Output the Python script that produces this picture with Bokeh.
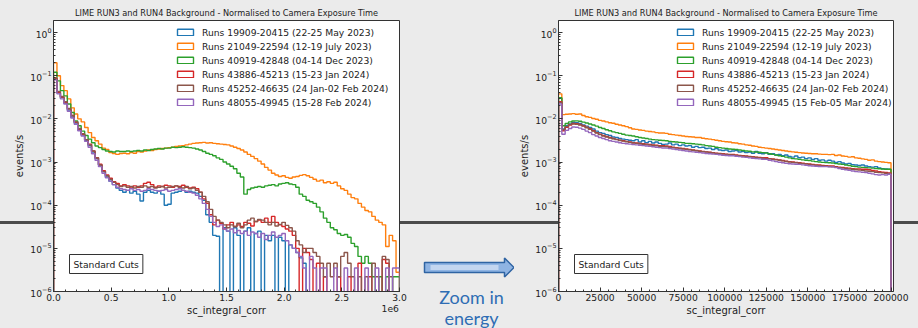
from bokeh.plotting import figure
from bokeh.layouts import row, column
from bokeh.models import (Range1d, FixedTicker, LogTickFormatter,
                          CustomJSTickFormatter, PrintfTickFormatter, Label)
from bokeh.core.properties import value
from bokeh.embed import file_html
from bokeh.resources import INLINE

FONT = "DejaVu Sans"
TITLE = "LIME RUN3 and RUN4 Background - Normalised to Camera Exposure Time"
colors = ["#1f77b4", "#ff7f0e", "#2ca02c", "#d62728", "#8c564b", "#9467bd"]

left_labels = ["Runs 19909-20415 (22-25 May 2023)",
               "Runs 21049-22594 (12-19 July 2023)",
               "Runs 40919-42848 (04-14 Dec 2023)",
               "Runs 43886-45213 (15-23 Jan 2024)",
               "Runs 45252-46635 (24 Jan-02 Feb 2024)",
               "Runs 48055-49945 (15-28 Feb 2024)"]
right_labels = ["Runs 19909-20415 (22-25 May 2023)",
                "Runs 21049-22594 (12-19 July 2023)",
                "Runs 40919-42848 (04-14 Dec 2023)",
                "Runs 43886-45213 (15-23 Jan 2024)",
                "Runs 45252-46635 (24 Jan-02 Feb 2024)",
                "Runs 48055-49945 (15 Feb-05 Mar 2024)"]

# ---- left panel: 100 bins of 30000 over 0 .. 3e6 (events/s) ----
left_bin = 30000
blue_L = [8.5e-2, 4.0e-2, 3.1e-2, 2.3e-2, 1.6e-2, 1.1e-2, 8.0e-3, 5.6e-3, 4.2e-3, 3.2e-3,
          2.4e-3, 1.7e-3, 1.2e-3, 8.5e-4, 6.0e-4, 4.5e-4, 3.6e-4, 3.0e-4, 2.5e-4, 2.2e-4,
          2.0e-4, 2.2e-4, 1.9e-4, 2.1e-4, 1.8e-4, 1.25e-4, 2.0e-4, 2.2e-4, 2.0e-4, 1.9e-4,
          2.1e-4, 1.8e-4, 1.0e-4, 1.05e-4, 1.9e-4, 2.0e-4, 2.1e-4, 2.2e-4, 2.0e-4, 2.1e-4,
          2.0e-4, 1.9e-4, 1.6e-4, 1.3e-4, 6.0e-5, 4.0e-5, 2.0e-5, 1.9e-5, 0, 3.0e-5,
          2.5e-5, 0, 3.0e-5, 2.0e-5, 0, 2.5e-5, 3.0e-5, 0, 2.2e-5, 2.5e-5,
          0, 2.0e-5, 1.5e-5, 2.0e-5, 0, 1.8e-5, 1.5e-5, 0, 1.2e-5, 1.0e-5,
          8.0e-6, 6.0e-6, 4.5e-6, 0, 0, 0, 0, 0, 0, 0,
          0, 0, 0, 0, 0, 0, 0, 0, 0, 0,
          0, 0, 0, 0, 0, 0, 0, 0, 0, 0]
orange_L = [2.0e-1, 1.0e-1, 5.9e-2, 4.5e-2, 2.9e-2, 1.8e-2, 1.3e-2, 1.0e-2, 8.5e-3, 6.3e-3,
            4.8e-3, 3.7e-3, 3.1e-3, 2.6e-3, 2.1e-3, 1.95e-3, 1.66e-3, 1.58e-3, 1.5e-3, 1.58e-3,
            1.6e-3, 1.55e-3, 1.65e-3, 1.6e-3, 1.75e-3, 1.7e-3, 1.8e-3, 1.9e-3, 1.85e-3, 1.95e-3,
            2.0e-3, 2.05e-3, 2.1e-3, 2.15e-3, 2.2e-3, 2.3e-3, 2.35e-3, 2.4e-3, 2.5e-3, 2.6e-3,
            2.7e-3, 2.75e-3, 2.8e-3, 2.85e-3, 2.75e-3, 2.8e-3, 2.7e-3, 2.65e-3, 2.6e-3, 2.55e-3,
            2.5e-3, 2.35e-3, 2.2e-3, 2.05e-3, 1.9e-3, 1.7e-3, 1.5e-3, 1.35e-3, 1.2e-3, 1.05e-3,
            9.0e-4, 7.5e-4, 6.5e-4, 5.5e-4, 5.0e-4, 4.6e-4, 4.8e-4, 4.4e-4, 4.2e-4, 4.5e-4,
            4.6e-4, 4.9e-4, 5.1e-4, 4.8e-4, 4.4e-4, 4.0e-4, 3.6e-4, 3.8e-4, 3.3e-4, 3.5e-4,
            3.2e-4, 3.4e-4, 2.8e-4, 2.4e-4, 2.2e-4, 1.8e-4, 1.5e-4, 1.4e-4, 1.1e-4, 9.0e-5,
            7.5e-5, 7.0e-5, 5.5e-5, 4.5e-5, 4.0e-5, 3.5e-5, 1.1e-5, 2.0e-5, 1.5e-5, 2.8e-6]
green_L = [1.2e-1, 7.6e-2, 4.5e-2, 3.4e-2, 2.2e-2, 1.4e-2, 8.9e-3, 6.9e-3, 5.2e-3, 4.1e-3,
           3.4e-3, 2.8e-3, 2.35e-3, 2.15e-3, 1.95e-3, 1.8e-3, 1.75e-3, 1.7e-3, 1.8e-3, 1.75e-3,
           1.75e-3, 1.8e-3, 1.75e-3, 1.8e-3, 1.85e-3, 1.8e-3, 1.9e-3, 1.85e-3, 1.95e-3, 2.0e-3,
           2.05e-3, 2.0e-3, 2.1e-3, 2.1e-3, 2.2e-3, 2.15e-3, 2.2e-3, 2.25e-3, 2.2e-3, 2.15e-3,
           2.1e-3, 2.0e-3, 1.9e-3, 1.75e-3, 1.6e-3, 1.5e-3, 1.4e-3, 1.25e-3, 1.15e-3, 1.0e-3,
           9.0e-4, 8.0e-4, 7.0e-4, 5.5e-4, 4.5e-4, 1.8e-4, 2.3e-4, 2.5e-4, 2.6e-4, 2.7e-4,
           2.6e-4, 2.8e-4, 2.9e-4, 3.0e-4, 2.8e-4, 3.1e-4, 3.2e-4, 3.3e-4, 3.1e-4, 3.0e-4,
           2.6e-4, 1.8e-4, 1.6e-4, 1.3e-4, 1.2e-4, 1.1e-4, 9.0e-5, 7.0e-5, 5.0e-5, 4.0e-5,
           3.0e-5, 2.7e-5, 2.2e-5, 2.0e-5, 2.1e-5, 1.8e-5, 1.3e-5, 1.1e-5, 6.5e-6, 4.5e-6,
           6.5e-6, 4.5e-6, 2.2e-6, 0, 2.2e-6, 0, 2.2e-6, 0, 2.2e-6, 2.2e-6]
red_L = [8.9e-2, 4.1e-2, 3.2e-2, 2.4e-2, 1.7e-2, 1.2e-2, 8.3e-3, 5.8e-3, 4.4e-3, 3.3e-3,
         2.6e-3, 1.8e-3, 1.26e-3, 8.9e-4, 6.3e-4, 5.0e-4, 4.2e-4, 3.5e-4, 3.2e-4, 2.8e-4,
         3.0e-4, 2.8e-4, 2.5e-4, 2.8e-4, 2.6e-4, 2.8e-4, 3.2e-4, 3.4e-4, 3.0e-4, 2.6e-4,
         2.8e-4, 2.7e-4, 2.9e-4, 2.8e-4, 2.6e-4, 2.8e-4, 2.7e-4, 2.9e-4, 2.6e-4, 2.5e-4,
         2.6e-4, 2.4e-4, 2.0e-4, 1.4e-4, 1.1e-4, 6.0e-5, 3.5e-5, 4.5e-5, 3.8e-5, 2.8e-5,
         3.5e-5, 4.0e-5, 3.2e-5, 3.5e-5, 3.2e-5, 4.0e-5, 3.8e-5, 3.3e-5, 4.2e-5, 4.5e-5,
         4.0e-5, 5.0e-5, 4.0e-5, 5.5e-5, 4.0e-5, 3.5e-5, 3.2e-5, 2.8e-5, 2.5e-5, 2.0e-5,
         1.0e-5, 0, 1.0e-5, 8.0e-6, 5.5e-6, 0, 4.5e-6, 0, 2.2e-6, 0,
         0, 0, 2.2e-6, 0, 0, 2.2e-6, 0, 0, 4.5e-6, 0,
         0, 2.2e-6, 0, 0, 0, 5.5e-6, 4.5e-6, 0, 0, 0]
brown_L = [8.5e-2, 4.3e-2, 3.3e-2, 2.5e-2, 1.75e-2, 1.2e-2, 8.5e-3, 6.0e-3, 4.5e-3, 3.3e-3,
           2.5e-3, 1.8e-3, 1.25e-3, 8.5e-4, 6.0e-4, 4.8e-4, 4.0e-4, 3.4e-4, 3.0e-4, 2.7e-4,
           2.8e-4, 2.6e-4, 2.7e-4, 2.5e-4, 2.7e-4, 2.6e-4, 2.8e-4, 2.6e-4, 2.7e-4, 2.5e-4,
           2.6e-4, 2.7e-4, 2.5e-4, 2.6e-4, 2.7e-4, 2.8e-4, 2.6e-4, 2.5e-4, 2.7e-4, 2.4e-4,
           2.5e-4, 2.2e-4, 2.0e-4, 1.6e-4, 1.2e-4, 8.0e-5, 5.5e-5, 4.5e-5, 4.0e-5, 3.5e-5,
           3.0e-5, 3.5e-5, 3.2e-5, 3.8e-5, 3.0e-5, 3.5e-5, 4.5e-5, 5.0e-5, 4.2e-5, 4.7e-5,
           4.5e-5, 4.0e-5, 3.5e-5, 4.0e-5, 3.3e-5, 3.6e-5, 4.0e-5, 3.4e-5, 3.0e-5, 2.5e-5,
           1.5e-5, 1.2e-5, 8.0e-6, 1.0e-5, 1.0e-5, 8.0e-6, 6.5e-6, 4.5e-6, 2.2e-6, 4.5e-6,
           2.2e-6, 4.5e-6, 2.2e-6, 6.5e-6, 8.0e-6, 4.5e-6, 2.2e-6, 0, 2.2e-6, 0,
           2.2e-6, 0, 4.5e-6, 2.2e-6, 0, 6.5e-6, 5.5e-6, 2.2e-6, 0, 0]
purple_L = [8.0e-2, 3.8e-2, 2.9e-2, 2.2e-2, 1.5e-2, 1.05e-2, 7.5e-3, 5.3e-3, 4.0e-3, 3.0e-3,
            2.2e-3, 1.55e-3, 1.1e-3, 7.8e-4, 5.5e-4, 4.3e-4, 3.6e-4, 3.0e-4, 2.6e-4, 2.4e-4,
            2.3e-4, 2.2e-4, 2.4e-4, 2.2e-4, 2.3e-4, 2.1e-4, 2.2e-4, 2.4e-4, 2.3e-4, 2.2e-4,
            2.1e-4, 2.2e-4, 2.3e-4, 2.1e-4, 2.2e-4, 2.3e-4, 2.4e-4, 2.2e-4, 2.1e-4, 2.0e-4,
            1.9e-4, 1.7e-4, 1.4e-4, 1.1e-4, 8.0e-5, 5.5e-5, 4.0e-5, 3.2e-5, 3.5e-5, 2.8e-5,
            2.5e-5, 2.8e-5, 2.3e-5, 2.6e-5, 2.2e-5, 2.5e-5, 2.0e-5, 2.4e-5, 2.2e-5, 1.8e-5,
            2.2e-5, 1.6e-5, 2.0e-5, 2.4e-5, 1.8e-5, 2.0e-5, 2.2e-5, 1.5e-5, 1.2e-5, 1.0e-5,
            8.0e-6, 6.5e-6, 3.5e-6, 0, 6.5e-6, 3.5e-6, 0, 3.5e-6, 3.5e-6, 0,
            0, 3.5e-6, 0, 0, 3.5e-6, 0, 0, 3.5e-6, 0, 0,
            3.5e-6, 0, 0, 3.5e-6, 0, 0, 3.5e-6, 0, 3.5e-6, 3.5e-6]

# ---- right panel: 100 bins of 2000 over 0 .. 200000 (events/s) ----
right_bin = 2000
blue_R = [3.0e-2, 5.8e-3, 6.9e-3, 7.6e-3, 8.2e-3, 8.1e-3, 7.8e-3, 7.2e-3, 6.8e-3, 6.3e-3,
          5.8e-3, 5.2e-3, 4.8e-3, 4.6e-3, 4.3e-3, 4.1e-3, 3.8e-3, 3.7e-3, 3.5e-3, 3.4e-3,
          3.3e-3, 3.2e-3, 3.1e-3, 3.3e-3, 2.9e-3, 3.1e-3, 2.8e-3, 3.0e-3, 2.75e-3, 2.9e-3,
          2.7e-3, 2.55e-3, 2.6e-3, 2.75e-3, 2.5e-3, 2.6e-3, 2.4e-3, 2.5e-3, 2.35e-3, 2.4e-3,
          2.2e-3, 2.3e-3, 2.15e-3, 2.2e-3, 2.05e-3, 2.1e-3, 1.95e-3, 2.05e-3, 1.9e-3, 1.85e-3,
          1.9e-3, 1.75e-3, 1.8e-3, 1.85e-3, 1.7e-3, 1.75e-3, 1.65e-3, 1.7e-3, 1.6e-3, 1.75e-3,
          1.6e-3, 1.55e-3, 1.65e-3, 1.5e-3, 1.55e-3, 1.45e-3, 1.5e-3, 1.4e-3, 1.45e-3, 1.35e-3,
          1.3e-3, 1.38e-3, 1.26e-3, 1.3e-3, 1.2e-3, 1.25e-3, 1.15e-3, 1.2e-3, 1.1e-3, 1.12e-3,
          1.05e-3, 1.1e-3, 1.05e-3, 9.8e-4, 1.02e-3, 9.5e-4, 9.0e-4, 9.3e-4, 8.7e-4, 8.5e-4,
          8.3e-4, 8.5e-4, 8.1e-4, 7.8e-4, 7.6e-4, 7.8e-4, 7.3e-4, 7.0e-4, 6.9e-4, 6.8e-4]
orange_R = [3.8e-2, 1.25e-2, 1.28e-2, 1.3e-2, 1.32e-2, 1.28e-2, 1.3e-2, 1.2e-2, 1.12e-2, 1.08e-2,
            1.02e-2, 9.8e-3, 9.2e-3, 8.9e-3, 8.5e-3, 8.1e-3, 7.9e-3, 7.5e-3, 7.2e-3, 6.9e-3,
            6.6e-3, 6.2e-3, 5.8e-3, 5.7e-3, 5.5e-3, 5.4e-3, 5.2e-3, 5.1e-3, 5.0e-3, 4.8e-3,
            4.7e-3, 4.7e-3, 4.6e-3, 4.4e-3, 4.3e-3, 4.2e-3, 4.1e-3, 4.0e-3, 3.9e-3, 3.85e-3,
            3.8e-3, 3.7e-3, 3.7e-3, 3.55e-3, 3.45e-3, 3.4e-3, 3.3e-3, 3.2e-3, 3.1e-3, 3.0e-3,
            2.95e-3, 2.9e-3, 2.8e-3, 2.75e-3, 2.65e-3, 2.6e-3, 2.5e-3, 2.45e-3, 2.35e-3, 2.3e-3,
            2.2e-3, 2.15e-3, 2.1e-3, 2.05e-3, 2.0e-3, 1.95e-3, 1.9e-3, 1.85e-3, 1.8e-3, 1.75e-3,
            1.72e-3, 1.68e-3, 1.65e-3, 1.62e-3, 1.6e-3, 1.58e-3, 1.55e-3, 1.55e-3, 1.52e-3, 1.5e-3,
            1.5e-3, 1.48e-3, 1.5e-3, 1.42e-3, 1.45e-3, 1.38e-3, 1.35e-3, 1.3e-3, 1.32e-3, 1.25e-3,
            1.22e-3, 1.18e-3, 1.15e-3, 1.1e-3, 1.12e-3, 1.05e-3, 1.02e-3, 1.0e-3, 9.8e-4, 9.6e-4]
green_R = [3.1e-2, 6.9e-3, 7.8e-3, 8.5e-3, 8.9e-3, 9.0e-3, 8.8e-3, 8.4e-3, 8.0e-3, 7.6e-3,
           7.2e-3, 6.8e-3, 6.3e-3, 6.0e-3, 5.6e-3, 5.3e-3, 5.0e-3, 4.8e-3, 4.6e-3, 4.4e-3,
           4.2e-3, 4.1e-3, 4.0e-3, 3.85e-3, 3.7e-3, 3.6e-3, 3.5e-3, 3.4e-3, 3.3e-3, 3.25e-3,
           3.2e-3, 3.15e-3, 3.1e-3, 3.0e-3, 2.95e-3, 2.9e-3, 2.85e-3, 2.8e-3, 2.7e-3, 2.68e-3,
           2.65e-3, 2.6e-3, 2.55e-3, 2.5e-3, 2.4e-3, 2.35e-3, 2.3e-3, 2.2e-3, 2.15e-3, 2.1e-3,
           2.05e-3, 2.0e-3, 1.98e-3, 1.95e-3, 1.9e-3, 1.85e-3, 1.8e-3, 1.78e-3, 1.72e-3, 1.7e-3,
           1.68e-3, 1.65e-3, 1.62e-3, 1.55e-3, 1.5e-3, 1.45e-3, 1.4e-3, 1.35e-3, 1.3e-3, 1.25e-3,
           1.2e-3, 1.18e-3, 1.15e-3, 1.12e-3, 1.1e-3, 1.08e-3, 1.05e-3, 1.02e-3, 1.0e-3, 9.8e-4,
           9.7e-4, 9.6e-4, 9.5e-4, 9.2e-4, 9.0e-4, 8.8e-4, 8.5e-4, 8.3e-4, 8.0e-4, 7.8e-4,
           7.6e-4, 7.5e-4, 7.4e-4, 7.3e-4, 7.2e-4, 7.1e-4, 7.0e-4, 6.9e-4, 6.8e-4, 6.8e-4]
red_R = [2.5e-2, 5.3e-3, 6.4e-3, 7.2e-3, 7.8e-3, 7.7e-3, 7.4e-3, 6.9e-3, 6.4e-3, 5.9e-3,
         5.3e-3, 4.8e-3, 4.4e-3, 4.1e-3, 3.9e-3, 3.7e-3, 3.5e-3, 3.35e-3, 3.2e-3, 3.1e-3,
         3.0e-3, 2.9e-3, 2.8e-3, 2.75e-3, 2.7e-3, 2.65e-3, 2.6e-3, 2.55e-3, 2.5e-3, 2.45e-3,
         2.4e-3, 2.38e-3, 2.35e-3, 2.3e-3, 2.2e-3, 2.15e-3, 2.1e-3, 2.05e-3, 2.0e-3, 1.95e-3,
         1.9e-3, 1.85e-3, 1.8e-3, 1.75e-3, 1.72e-3, 1.68e-3, 1.65e-3, 1.6e-3, 1.58e-3, 1.55e-3,
         1.52e-3, 1.5e-3, 1.5e-3, 1.45e-3, 1.42e-3, 1.4e-3, 1.38e-3, 1.35e-3, 1.32e-3, 1.3e-3,
         1.28e-3, 1.26e-3, 1.26e-3, 1.2e-3, 1.18e-3, 1.15e-3, 1.12e-3, 1.08e-3, 1.05e-3, 1.02e-3,
         1.0e-3, 9.8e-4, 9.6e-4, 9.4e-4, 9.2e-4, 9.0e-4, 8.8e-4, 8.6e-4, 8.5e-4, 8.3e-4,
         8.2e-4, 8.1e-4, 8.1e-4, 7.8e-4, 7.6e-4, 7.5e-4, 7.3e-4, 7.2e-4, 7.0e-4, 6.9e-4,
         6.9e-4, 6.8e-4, 6.8e-4, 6.6e-4, 6.4e-4, 6.2e-4, 6.0e-4, 5.8e-4, 5.7e-4, 5.6e-4]
brown_R = [2.4e-2, 5.6e-3, 6.6e-3, 7.4e-3, 7.6e-3, 7.5e-3, 7.2e-3, 6.8e-3, 6.2e-3, 5.7e-3,
           5.2e-3, 4.7e-3, 4.3e-3, 4.0e-3, 3.8e-3, 3.6e-3, 3.45e-3, 3.3e-3, 3.15e-3, 3.05e-3,
           2.95e-3, 2.85e-3, 2.75e-3, 2.7e-3, 2.62e-3, 2.58e-3, 2.5e-3, 2.48e-3, 2.42e-3, 2.38e-3,
           2.32e-3, 2.3e-3, 2.25e-3, 2.2e-3, 2.15e-3, 2.1e-3, 2.05e-3, 2.0e-3, 1.96e-3, 1.92e-3,
           1.88e-3, 1.82e-3, 1.78e-3, 1.74e-3, 1.7e-3, 1.66e-3, 1.62e-3, 1.58e-3, 1.55e-3, 1.52e-3,
           1.5e-3, 1.48e-3, 1.45e-3, 1.42e-3, 1.4e-3, 1.37e-3, 1.35e-3, 1.32e-3, 1.3e-3, 1.27e-3,
           1.25e-3, 1.22e-3, 1.2e-3, 1.18e-3, 1.15e-3, 1.12e-3, 1.1e-3, 1.06e-3, 1.03e-3, 1.0e-3,
           9.8e-4, 9.6e-4, 9.4e-4, 9.2e-4, 9.0e-4, 8.8e-4, 8.6e-4, 8.4e-4, 8.2e-4, 8.1e-4,
           8.0e-4, 7.9e-4, 7.7e-4, 7.6e-4, 7.4e-4, 7.2e-4, 7.1e-4, 6.9e-4, 6.8e-4, 6.6e-4,
           6.5e-4, 6.4e-4, 6.2e-4, 6.1e-4, 6.0e-4, 5.8e-4, 5.7e-4, 5.6e-4, 5.5e-4, 5.4e-4]
purple_R = [2.2e-2, 4.4e-3, 5.4e-3, 6.0e-3, 6.5e-3, 6.4e-3, 6.1e-3, 5.7e-3, 5.2e-3, 4.8e-3,
            4.3e-3, 4.0e-3, 3.7e-3, 3.5e-3, 3.3e-3, 3.1e-3, 3.0e-3, 2.9e-3, 2.8e-3, 2.7e-3,
            2.65e-3, 2.6e-3, 2.55e-3, 2.5e-3, 2.45e-3, 2.4e-3, 2.35e-3, 2.3e-3, 2.25e-3, 2.2e-3,
            2.15e-3, 2.12e-3, 2.1e-3, 2.05e-3, 2.0e-3, 1.95e-3, 1.9e-3, 1.85e-3, 1.8e-3, 1.75e-3,
            1.72e-3, 1.68e-3, 1.65e-3, 1.62e-3, 1.58e-3, 1.55e-3, 1.52e-3, 1.5e-3, 1.47e-3, 1.44e-3,
            1.42e-3, 1.4e-3, 1.4e-3, 1.36e-3, 1.33e-3, 1.3e-3, 1.28e-3, 1.25e-3, 1.22e-3, 1.2e-3,
            1.18e-3, 1.16e-3, 1.15e-3, 1.1e-3, 1.06e-3, 1.02e-3, 9.9e-4, 9.6e-4, 9.3e-4, 9.1e-4,
            9.0e-4, 8.9e-4, 8.8e-4, 8.6e-4, 8.4e-4, 8.2e-4, 8.1e-4, 8.0e-4, 7.9e-4, 7.8e-4,
            7.8e-4, 7.7e-4, 7.7e-4, 7.4e-4, 7.1e-4, 6.8e-4, 6.6e-4, 6.4e-4, 6.2e-4, 6.0e-4,
            5.9e-4, 5.8e-4, 5.7e-4, 5.5e-4, 5.3e-4, 5.1e-4, 5.0e-4, 5.1e-4, 5.0e-4, 5.2e-4]

left_series = [blue_L, orange_L, green_L, red_L, brown_L, purple_L]
right_series = [blue_R, orange_R, green_R, red_R, brown_R, purple_R]

left_xticks = [0, 500000, 1000000, 1500000, 2000000, 2500000, 3000000]
right_xticks = [0, 25000, 50000, 75000, 100000, 125000, 150000, 175000, 200000]
y_ticks = [1e-6, 1e-5, 1e-4, 1e-3, 1e-2, 1e-1, 1e0]

FLOOR = 1e-9


def step_outline(bin_w, vals):
    xs, ys = [0.0], [FLOOR]
    for i, v in enumerate(vals):
        v = v if v > 0 else FLOOR
        xs += [i * bin_w, (i + 1) * bin_w]
        ys += [v, v]
    xs.append(len(vals) * bin_w)
    ys.append(FLOOR)
    return xs, ys


def style_axis(ax):
    ax.axis_line_color = "#333333"
    ax.major_tick_line_color = "#333333"
    ax.minor_tick_line_color = "#333333"
    ax.major_tick_in = 4
    ax.major_tick_out = 0
    ax.minor_tick_in = 2
    ax.minor_tick_out = 0
    ax.major_label_text_font = FONT
    ax.major_label_text_font_size = "9.2px"
    ax.major_label_text_color = "#222222"
    ax.axis_label_text_font = FONT
    ax.axis_label_text_font_size = "10px"
    ax.axis_label_text_font_style = "normal"
    ax.axis_label_text_color = "#222222"


def hist_panel(width, bl, br, x_range, bin_w, series, labels, xticks, xminor, xfmt, legend_loc):
    p = figure(width=width, height=304, title=TITLE,
               x_range=x_range, y_range=Range1d(1e-6, 1.9),
               y_axis_type="log", min_border_left=bl, min_border_right=br,
               min_border_top=20, min_border_bottom=13,
               toolbar_location=None, output_backend="svg")
    p.border_fill_color = None
    p.background_fill_color = "white"
    p.outline_line_color = "#333333"
    p.outline_line_width = 1
    p.grid.visible = False
    p.title.text_font = FONT
    p.title.text_font_size = "8.2px"
    p.title.text_font_style = "normal"
    p.title.text_color = "#222222"
    p.title.align = "center"
    p.title.standoff = 6

    for vals, col, lab in zip(series, colors, labels):
        xs, ys = step_outline(bin_w, vals)
        p.patch(xs, ys, fill_color=None, line_color=col, line_width=1.4,
                legend_label=lab)

    p.xaxis.ticker = FixedTicker(ticks=xticks, minor_ticks=xminor)
    p.xaxis.formatter = xfmt
    p.yaxis.ticker = FixedTicker(
        ticks=y_ticks,
        minor_ticks=[m * t for t in y_ticks[:-1] for m in range(2, 10)] + [2.0])
    p.yaxis.formatter = LogTickFormatter()
    p.yaxis.axis_label = "events/s"
    p.xaxis.major_label_standoff = 2
    p.yaxis.major_label_standoff = 2
    p.yaxis.axis_label_standoff = 2
    style_axis(p.xaxis[0])
    style_axis(p.yaxis[0])

    lg = p.legend[0]
    lg.location = legend_loc
    lg.background_fill_alpha = 0
    lg.border_line_alpha = 0
    lg.label_text_font = FONT
    lg.label_text_font_size = "9.2px"
    lg.label_text_color = "#222222"
    lg.glyph_width = 20
    lg.glyph_height = 8
    lg.label_height = 14
    lg.spacing = 0
    lg.padding = 0
    lg.margin = 0
    lg.label_standoff = 7

    p.add_layout(Label(x=16, y=18, x_units="screen", y_units="screen",
                       text="Standard Cuts", text_font=FONT, text_font_size="9.2px",
                       text_color="#222222", border_line_color="#333333",
                       border_line_width=1, background_fill_color="white",
                       padding=4))
    return p


def text_strip(width, bl, br, x_range, xs, texts, ys, sizes):
    # strip under a panel, sharing its x range and borders so texts align with the frame
    s = figure(width=width, height=24, x_range=x_range,
               y_range=Range1d(328, 304), x_axis_location=None, y_axis_location=None,
               min_border_left=bl, min_border_right=br, min_border_top=0,
               min_border_bottom=0, toolbar_location=None, output_backend="svg")
    s.grid.visible = False
    s.outline_line_color = None
    s.background_fill_color = None
    s.border_fill_color = None
    for x, y, t, fs in zip(xs, ys, texts, sizes):
        s.text(x=[x], y=[y], text=[t], text_font=value(FONT), text_font_size=fs,
               text_color="#222222", text_align="center", text_baseline="middle")
    return s


xrL = Range1d(0, 3000000)
xrR = Range1d(0, 201500)

pL = hist_panel(410, 53, 11, xrL, left_bin, left_series, left_labels,
                left_xticks, [k * 100000 for k in range(31)],
                CustomJSTickFormatter(code="return (tick/1e6).toFixed(1)"), (122, 182))
pR = hist_panel(404, 44, 25, xrR, right_bin, right_series, right_labels,
                right_xticks, [k * 5000 for k in range(41)],
                PrintfTickFormatter(format="%d"), (117, 182))

sL = text_strip(410, 53, 11, xrL, [1500000, 2920000], ["sc_integral_corr", "1e6"],
                [309.5, 307.5], ["10px", "9.2px"])
sR = text_strip(404, 44, 25, xrR, [100750], ["sc_integral_corr"], [309.5], ["10px"])

# middle: arrow and caption
m = figure(width=104, height=328, x_range=Range1d(410, 514), y_range=Range1d(328, 0),
           x_axis_location=None, y_axis_location=None, min_border=0,
           toolbar_location=None, output_backend="svg")
m.grid.visible = False
m.outline_line_color = None
m.background_fill_color = None
m.border_fill_color = None
arrow_x = [424, 504, 504, 513.5, 504, 504, 424]
arrow_y = [262, 262, 257.5, 267, 276.5, 272, 272]
m.patch(arrow_x, arrow_y, fill_color="#8fb4e3", line_color="#2f64a3", line_width=1.5)
m.patch([430, 498, 498, 430], [264.5, 264.5, 269.5, 269.5], fill_color="#c3d6f0",
        line_color=None)
m.text(x=[471, 471], y=[296, 317], text=["Zoom in", "energy"], text_font=value("Lato"),
       text_font_size="18px", text_color="#2e6db4", text_align="center",
       text_baseline="middle")

bg = ("linear-gradient(to bottom, #ebebeb 0px, #ebebeb 221px, #4b4b4b 221px, "
      "#4b4b4b 224px, #ebebeb 224px, #ebebeb 100%)")
layout = row(column(pL, sL), m, column(pR, sR), styles={"background": bg})

open("out.html", "w").write(file_html(layout, INLINE))
